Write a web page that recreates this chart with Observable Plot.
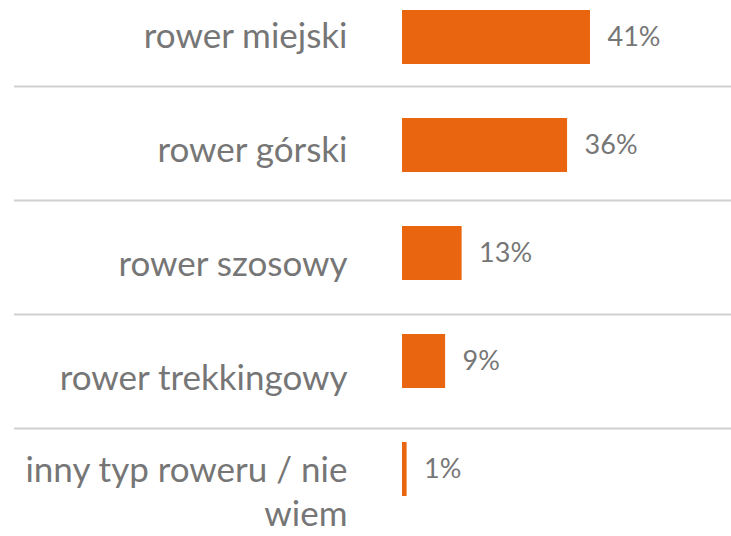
<!DOCTYPE html>
<html>
<head>
<meta charset="utf-8">
<script src="https://cdn.jsdelivr.net/npm/d3@7"></script>
<script src="https://cdn.jsdelivr.net/npm/@observablehq/plot@0.6"></script>
<style>
  html, body { margin: 0; padding: 0; background: #fff; }
  #chart { position: relative; width: 731px; height: 536px; overflow: hidden; }
  #chart svg { position: absolute; left: 0; top: 0; }
</style>
</head>
<body>
<div id="chart"></div>
<script>
const categories = [
  "rower miejski",
  "rower górski",
  "rower szosowy",
  "rower trekkingowy",
  "inny typ roweru / nie\nwiem"
];
// bar lengths (labels are the rounded figures shown)
const values = [41, 36, 13, 9.4, 1];
const valueLabels = ["41%", "36%", "13%", "9%", "1%"];

const data = categories.map((c, i) => ({category: c, value: values[i], label: valueLabels[i]}));

const textColor = "#767676";
const barColor = "#E9650F";
const ruleColor = "#D0D0D0";
const font = "Lato, 'Open Sans', sans-serif";

const xScale = {domain: [0, 41], range: [402, 590], axis: null};

// Table layer: category labels and row separators
const table = Plot.plot({
  width: 731,
  height: 536,
  marginLeft: 14,
  marginRight: 0,
  marginTop: 0,
  marginBottom: 0,
  style: {background: "transparent", fontFamily: font, overflow: "visible"},
  x: xScale,
  y: {type: "point", domain: categories, range: [33, 489], padding: 0, axis: null},
  marks: [
    Plot.ruleY(data.slice(0, -1), {y: "category", dy: 53, stroke: ruleColor, strokeWidth: 2}),
    Plot.text(data, {
      x: 0, y: "category", text: "category",
      dx: -55, textAnchor: "end", lineAnchor: "middle",
      fontSize: 35, lineHeight: 1.26, fill: textColor
    })
  ]
});

// Bar layer
const bars = Plot.plot({
  width: 731,
  height: 536,
  marginLeft: 0,
  marginRight: 0,
  marginTop: 0,
  marginBottom: 0,
  style: {background: "transparent", fontFamily: font, overflow: "visible"},
  x: xScale,
  y: {type: "band", domain: categories, range: [-18.25, 524.25], paddingInner: 0.5, paddingOuter: 0.25, axis: null},
  marks: [
    Plot.barX(data, {x: "value", y: "category", fill: barColor}),
    Plot.text(data, {
      x: "value", y: "category", text: "label",
      dx: 17, textAnchor: "start", fontSize: 27, fill: textColor
    })
  ]
});

const el = document.getElementById("chart");
el.appendChild(table);
el.appendChild(bars);
</script>
</body>
</html>
